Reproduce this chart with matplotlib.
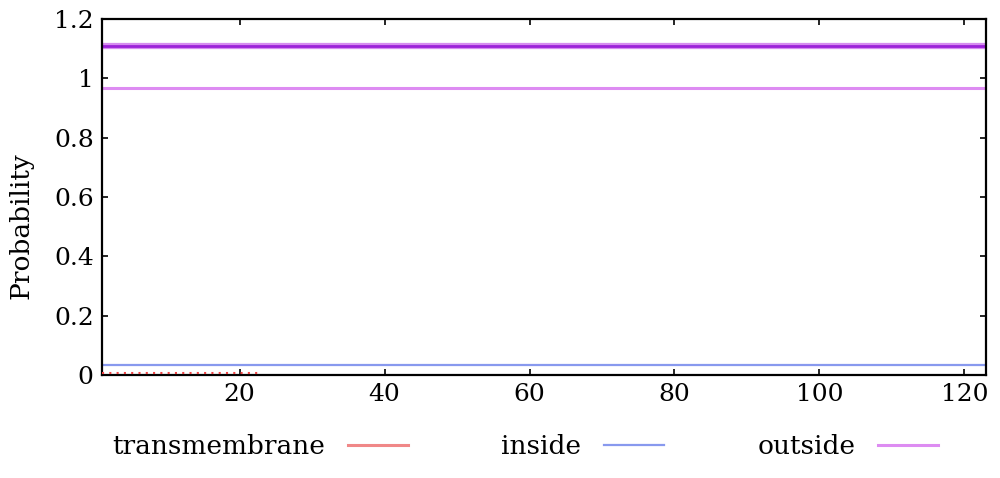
import matplotlib.pyplot as plt

# per-residue probabilities (constant segments)
seq_len = 123
pos_span = [1, 123]
inside_prob = [0.034, 0.034]
outside_prob = [0.967, 0.967]
tm_pos = [1, 23]
tm_prob = [0.006, 0.006]
# predicted topology bar (outside over whole sequence)
topo_pos = [1, 123]
topo_level = [1.11, 1.11]

xticks = [20, 40, 60, 80, 100, 120]
yticks = [0, 0.2, 0.4, 0.6, 0.8, 1, 1.2]
ytick_labels = ['0', '0.2', '0.4', '0.6', '0.8', '1', '1.2']

plt.rcParams['font.family'] = ['DejaVu Serif']

fig = plt.figure(figsize=(10, 4.78), dpi=100)
ax = fig.add_axes([0.102, 0.2155, 0.884, 0.7448])

# topology bar: light edge with darker core
ax.plot(topo_pos, topo_level, color='#d68cf0', linewidth=4.5, solid_capstyle='butt')
ax.plot(topo_pos, topo_level, color='#9b22d8', linewidth=2, solid_capstyle='butt')

ax.plot(tm_pos, tm_prob, color='#ee4444', linewidth=1.5,
        linestyle=(0, (1, 2.5)), zorder=4)
l_tm, = ax.plot([], [], color='#f08888', linewidth=2.2, label='transmembrane')
l_in, = ax.plot(pos_span, inside_prob, color='#8899ee', linewidth=1.6, label='inside')
l_out, = ax.plot(pos_span, outside_prob, color='#dd8cf2', linewidth=2.2, label='outside')

ax.set_xlim(1, seq_len)
ax.set_ylim(0, 1.2)
ax.set_xticks(xticks)
ax.set_yticks(yticks)
ax.set_yticklabels(ytick_labels)
ax.tick_params(direction='in', length=4, width=1.2, top=True, right=True,
               labelsize=18, pad=6)
for s in ax.spines.values():
    s.set_linewidth(1.6)
ax.set_ylabel('Probability', fontsize=19)
ax.yaxis.set_label_coords(-0.078, 0.42)

leg = ax.legend(handles=[l_tm, l_in, l_out], ncol=3, markerfirst=False,
                frameon=False, fontsize=19, loc='upper left',
                bbox_to_anchor=(-0.015, -0.1), handlelength=2.27,
                handletextpad=0.85, columnspacing=3.55)

plt.savefig('out.png', dpi=100, facecolor='white')
plt.close()
